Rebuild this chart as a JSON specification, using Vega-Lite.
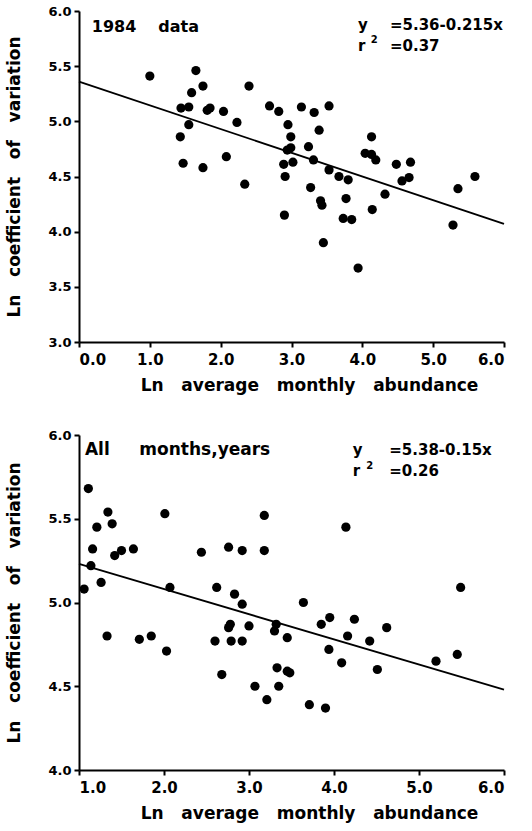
{
  "$schema": "https://vega.github.io/schema/vega-lite/v6.json",
  "background": "white",
  "padding": {"left": 5, "top": 5, "right": 5, "bottom": 5},
  "spacing": 36,
  "config": {
    "view": {"stroke": null},
    "font": "DejaVu Sans",
    "axis": {
      "grid": false,
      "domainColor": "black",
      "domainWidth": 2,
      "tickColor": "black",
      "tickWidth": 2,
      "tickSize": 5,
      "labelFont": "DejaVu Sans",
      "labelFontWeight": "bold",
      "labelColor": "black",
      "titleFont": "DejaVu Sans",
      "titleFontWeight": "bold",
      "titleColor": "black",
      "format": ".1f"
    },
    "axisX": {"labelFontSize": 15, "labelPadding": 5, "titleFontSize": 17, "titlePadding": 10, "titleX": 230},
    "axisY": {"labelFontSize": 13, "labelPadding": 3, "titleFontSize": 17, "titlePadding": 24}
  },
  "datasets": {
    "year1984": [
      {"ln_abundance": 1.00, "ln_cv": 5.41}, {"ln_abundance": 1.65, "ln_cv": 5.46}, {"ln_abundance": 1.75, "ln_cv": 5.32},
      {"ln_abundance": 1.59, "ln_cv": 5.26}, {"ln_abundance": 1.44, "ln_cv": 5.12}, {"ln_abundance": 1.55, "ln_cv": 5.13},
      {"ln_abundance": 1.55, "ln_cv": 4.97}, {"ln_abundance": 1.43, "ln_cv": 4.86}, {"ln_abundance": 1.47, "ln_cv": 4.62},
      {"ln_abundance": 1.75, "ln_cv": 4.58}, {"ln_abundance": 1.81, "ln_cv": 5.10}, {"ln_abundance": 1.85, "ln_cv": 5.12},
      {"ln_abundance": 2.04, "ln_cv": 5.09}, {"ln_abundance": 2.23, "ln_cv": 4.99}, {"ln_abundance": 2.08, "ln_cv": 4.68},
      {"ln_abundance": 2.40, "ln_cv": 5.32}, {"ln_abundance": 2.34, "ln_cv": 4.43}, {"ln_abundance": 2.69, "ln_cv": 5.14},
      {"ln_abundance": 2.82, "ln_cv": 5.09}, {"ln_abundance": 2.95, "ln_cv": 4.97}, {"ln_abundance": 2.99, "ln_cv": 4.86},
      {"ln_abundance": 2.99, "ln_cv": 4.76}, {"ln_abundance": 2.94, "ln_cv": 4.74}, {"ln_abundance": 2.89, "ln_cv": 4.61},
      {"ln_abundance": 3.02, "ln_cv": 4.63}, {"ln_abundance": 2.91, "ln_cv": 4.50}, {"ln_abundance": 3.14, "ln_cv": 5.13},
      {"ln_abundance": 3.32, "ln_cv": 5.08}, {"ln_abundance": 3.39, "ln_cv": 4.92}, {"ln_abundance": 3.24, "ln_cv": 4.77},
      {"ln_abundance": 3.31, "ln_cv": 4.65}, {"ln_abundance": 3.53, "ln_cv": 5.14}, {"ln_abundance": 3.53, "ln_cv": 4.56},
      {"ln_abundance": 3.27, "ln_cv": 4.40}, {"ln_abundance": 3.67, "ln_cv": 4.50}, {"ln_abundance": 3.80, "ln_cv": 4.47},
      {"ln_abundance": 3.77, "ln_cv": 4.30}, {"ln_abundance": 3.41, "ln_cv": 4.28}, {"ln_abundance": 3.43, "ln_cv": 4.24},
      {"ln_abundance": 4.13, "ln_cv": 4.86}, {"ln_abundance": 4.04, "ln_cv": 4.71}, {"ln_abundance": 4.13, "ln_cv": 4.70},
      {"ln_abundance": 4.19, "ln_cv": 4.65}, {"ln_abundance": 4.48, "ln_cv": 4.61}, {"ln_abundance": 4.68, "ln_cv": 4.63},
      {"ln_abundance": 4.56, "ln_cv": 4.46}, {"ln_abundance": 4.66, "ln_cv": 4.49}, {"ln_abundance": 4.32, "ln_cv": 4.34},
      {"ln_abundance": 5.35, "ln_cv": 4.39}, {"ln_abundance": 5.59, "ln_cv": 4.50}, {"ln_abundance": 2.90, "ln_cv": 4.15},
      {"ln_abundance": 3.45, "ln_cv": 3.90}, {"ln_abundance": 3.73, "ln_cv": 4.12}, {"ln_abundance": 3.85, "ln_cv": 4.11},
      {"ln_abundance": 3.94, "ln_cv": 3.67}, {"ln_abundance": 4.14, "ln_cv": 4.20}, {"ln_abundance": 5.28, "ln_cv": 4.06}
    ],
    "fit1984": [
      {"ln_abundance": 0, "ln_cv": 5.36},
      {"ln_abundance": 6, "ln_cv": 4.07}
    ],
    "allYears": [
      {"ln_abundance": 1.06, "ln_cv": 5.08}, {"ln_abundance": 1.11, "ln_cv": 5.68}, {"ln_abundance": 1.14, "ln_cv": 5.22},
      {"ln_abundance": 1.16, "ln_cv": 5.32}, {"ln_abundance": 1.21, "ln_cv": 5.45}, {"ln_abundance": 1.26, "ln_cv": 5.12},
      {"ln_abundance": 1.34, "ln_cv": 5.54}, {"ln_abundance": 1.39, "ln_cv": 5.47}, {"ln_abundance": 1.42, "ln_cv": 5.28},
      {"ln_abundance": 1.50, "ln_cv": 5.31}, {"ln_abundance": 1.64, "ln_cv": 5.32}, {"ln_abundance": 2.01, "ln_cv": 5.53},
      {"ln_abundance": 2.07, "ln_cv": 5.09}, {"ln_abundance": 2.44, "ln_cv": 5.30}, {"ln_abundance": 2.62, "ln_cv": 5.09},
      {"ln_abundance": 2.76, "ln_cv": 5.33}, {"ln_abundance": 2.92, "ln_cv": 5.31}, {"ln_abundance": 2.83, "ln_cv": 5.05},
      {"ln_abundance": 2.92, "ln_cv": 4.99}, {"ln_abundance": 3.18, "ln_cv": 5.52}, {"ln_abundance": 3.18, "ln_cv": 5.31},
      {"ln_abundance": 3.64, "ln_cv": 5.00}, {"ln_abundance": 4.14, "ln_cv": 5.45}, {"ln_abundance": 5.49, "ln_cv": 5.09},
      {"ln_abundance": 3.85, "ln_cv": 4.87}, {"ln_abundance": 3.95, "ln_cv": 4.91}, {"ln_abundance": 4.24, "ln_cv": 4.90},
      {"ln_abundance": 4.62, "ln_cv": 4.85}, {"ln_abundance": 1.33, "ln_cv": 4.80}, {"ln_abundance": 1.71, "ln_cv": 4.78},
      {"ln_abundance": 1.85, "ln_cv": 4.80}, {"ln_abundance": 2.03, "ln_cv": 4.71}, {"ln_abundance": 2.60, "ln_cv": 4.77},
      {"ln_abundance": 2.68, "ln_cv": 4.57}, {"ln_abundance": 2.76, "ln_cv": 4.85}, {"ln_abundance": 2.78, "ln_cv": 4.87},
      {"ln_abundance": 2.79, "ln_cv": 4.77}, {"ln_abundance": 2.92, "ln_cv": 4.77}, {"ln_abundance": 3.00, "ln_cv": 4.86},
      {"ln_abundance": 3.07, "ln_cv": 4.50}, {"ln_abundance": 3.21, "ln_cv": 4.42}, {"ln_abundance": 3.30, "ln_cv": 4.83},
      {"ln_abundance": 3.32, "ln_cv": 4.87}, {"ln_abundance": 3.45, "ln_cv": 4.79}, {"ln_abundance": 3.33, "ln_cv": 4.61},
      {"ln_abundance": 3.45, "ln_cv": 4.59}, {"ln_abundance": 3.48, "ln_cv": 4.58}, {"ln_abundance": 3.35, "ln_cv": 4.50},
      {"ln_abundance": 3.71, "ln_cv": 4.39}, {"ln_abundance": 3.90, "ln_cv": 4.37}, {"ln_abundance": 3.94, "ln_cv": 4.72},
      {"ln_abundance": 4.09, "ln_cv": 4.64}, {"ln_abundance": 4.16, "ln_cv": 4.80}, {"ln_abundance": 4.42, "ln_cv": 4.77},
      {"ln_abundance": 4.51, "ln_cv": 4.60}, {"ln_abundance": 5.20, "ln_cv": 4.65}, {"ln_abundance": 5.45, "ln_cv": 4.69}
    ],
    "fitAll": [
      {"ln_abundance": 1, "ln_cv": 5.23},
      {"ln_abundance": 6, "ln_cv": 4.48}
    ]
  },
  "vconcat": [
    {
      "width": 425,
      "height": 331,
      "layer": [
        {
          "data": {"name": "year1984"},
          "mark": {"type": "circle", "size": 85, "color": "black", "opacity": 1},
          "encoding": {
            "x": {
              "field": "ln_abundance", "type": "quantitative",
              "scale": {"domain": [0, 6], "nice": false, "zero": false},
              "axis": {"values": [0, 1, 2, 3, 4, 5, 6], "title": "Ln\u00a0\u00a0\u00a0average\u00a0\u00a0\u00a0monthly\u00a0\u00a0\u00a0abundance"}
            },
            "y": {
              "field": "ln_cv", "type": "quantitative",
              "scale": {"domain": [3, 6], "nice": false, "zero": false},
              "axis": {"values": [3, 3.5, 4, 4.5, 5, 5.5, 6], "title": "Ln\u00a0\u00a0\u00a0coefficient\u00a0\u00a0\u00a0of\u00a0\u00a0\u00a0variation"}
            }
          }
        },
        {
          "data": {"name": "fit1984"},
          "mark": {"type": "line", "color": "black", "strokeWidth": 1.8},
          "encoding": {
            "x": {"field": "ln_abundance", "type": "quantitative"},
            "y": {"field": "ln_cv", "type": "quantitative"}
          }
        },
        {
          "data": {"values": [{"label": "1984"}]},
          "mark": {"type": "text", "font": "DejaVu Sans", "fontWeight": "bold", "fontSize": 16, "color": "black", "align": "left", "baseline": "alphabetic"},
          "encoding": {"x": {"datum": 0.18, "type": "quantitative"}, "y": {"datum": 5.81, "type": "quantitative"}, "text": {"field": "label"}}
        },
        {
          "data": {"values": [{"label": "data"}]},
          "mark": {"type": "text", "font": "DejaVu Sans", "fontWeight": "bold", "fontSize": 16, "color": "black", "align": "left", "baseline": "alphabetic"},
          "encoding": {"x": {"datum": 1.12, "type": "quantitative"}, "y": {"datum": 5.81, "type": "quantitative"}, "text": {"field": "label"}}
        },
        {
          "data": {"values": [{"label": "y"}]},
          "mark": {"type": "text", "font": "DejaVu Sans", "fontWeight": "bold", "fontSize": 15, "color": "black", "align": "left", "baseline": "alphabetic"},
          "encoding": {"x": {"datum": 3.94, "type": "quantitative"}, "y": {"datum": 5.83, "type": "quantitative"}, "text": {"field": "label"}}
        },
        {
          "data": {"values": [{"label": "=5.36-0.215x"}]},
          "mark": {"type": "text", "font": "DejaVu Sans", "fontWeight": "bold", "fontSize": 15, "color": "black", "align": "left", "baseline": "alphabetic"},
          "encoding": {"x": {"datum": 4.39, "type": "quantitative"}, "y": {"datum": 5.83, "type": "quantitative"}, "text": {"field": "label"}}
        },
        {
          "data": {"values": [{"label": "r"}]},
          "mark": {"type": "text", "font": "DejaVu Sans", "fontWeight": "bold", "fontSize": 15, "color": "black", "align": "left", "baseline": "alphabetic"},
          "encoding": {"x": {"datum": 3.94, "type": "quantitative"}, "y": {"datum": 5.64, "type": "quantitative"}, "text": {"field": "label"}}
        },
        {
          "data": {"values": [{"label": "2"}]},
          "mark": {"type": "text", "font": "DejaVu Sans", "fontWeight": "bold", "fontSize": 10, "color": "black", "align": "left", "baseline": "alphabetic"},
          "encoding": {"x": {"datum": 4.12, "type": "quantitative"}, "y": {"datum": 5.71, "type": "quantitative"}, "text": {"field": "label"}}
        },
        {
          "data": {"values": [{"label": "=0.37"}]},
          "mark": {"type": "text", "font": "DejaVu Sans", "fontWeight": "bold", "fontSize": 15, "color": "black", "align": "left", "baseline": "alphabetic"},
          "encoding": {"x": {"datum": 4.39, "type": "quantitative"}, "y": {"datum": 5.64, "type": "quantitative"}, "text": {"field": "label"}}
        }
      ]
    },
    {
      "width": 425,
      "height": 335,
      "layer": [
        {
          "data": {"name": "allYears"},
          "mark": {"type": "circle", "size": 85, "color": "black", "opacity": 1},
          "encoding": {
            "x": {
              "field": "ln_abundance", "type": "quantitative",
              "scale": {"domain": [1, 6], "nice": false, "zero": false},
              "axis": {"values": [1, 2, 3, 4, 5, 6], "title": "Ln\u00a0\u00a0\u00a0average\u00a0\u00a0\u00a0monthly\u00a0\u00a0\u00a0abundance"}
            },
            "y": {
              "field": "ln_cv", "type": "quantitative",
              "scale": {"domain": [4, 6], "nice": false, "zero": false},
              "axis": {"values": [4, 4.5, 5, 5.5, 6], "title": "Ln\u00a0\u00a0\u00a0coefficient\u00a0\u00a0\u00a0of\u00a0\u00a0\u00a0variation"}
            }
          }
        },
        {
          "data": {"name": "fitAll"},
          "mark": {"type": "line", "color": "black", "strokeWidth": 1.8},
          "encoding": {
            "x": {"field": "ln_abundance", "type": "quantitative"},
            "y": {"field": "ln_cv", "type": "quantitative"}
          }
        },
        {
          "data": {"values": [{"label": "All"}]},
          "mark": {"type": "text", "font": "DejaVu Sans", "fontWeight": "bold", "fontSize": 17, "color": "black", "align": "left", "baseline": "alphabetic"},
          "encoding": {"x": {"datum": 1.07, "type": "quantitative"}, "y": {"datum": 5.88, "type": "quantitative"}, "text": {"field": "label"}}
        },
        {
          "data": {"values": [{"label": "months,years"}]},
          "mark": {"type": "text", "font": "DejaVu Sans", "fontWeight": "bold", "fontSize": 17, "color": "black", "align": "left", "baseline": "alphabetic"},
          "encoding": {"x": {"datum": 1.71, "type": "quantitative"}, "y": {"datum": 5.88, "type": "quantitative"}, "text": {"field": "label"}}
        },
        {
          "data": {"values": [{"label": "y"}]},
          "mark": {"type": "text", "font": "DejaVu Sans", "fontWeight": "bold", "fontSize": 15, "color": "black", "align": "left", "baseline": "alphabetic"},
          "encoding": {"x": {"datum": 4.22, "type": "quantitative"}, "y": {"datum": 5.88, "type": "quantitative"}, "text": {"field": "label"}}
        },
        {
          "data": {"values": [{"label": "=5.38-0.15x"}]},
          "mark": {"type": "text", "font": "DejaVu Sans", "fontWeight": "bold", "fontSize": 15, "color": "black", "align": "left", "baseline": "alphabetic"},
          "encoding": {"x": {"datum": 4.65, "type": "quantitative"}, "y": {"datum": 5.88, "type": "quantitative"}, "text": {"field": "label"}}
        },
        {
          "data": {"values": [{"label": "r"}]},
          "mark": {"type": "text", "font": "DejaVu Sans", "fontWeight": "bold", "fontSize": 15, "color": "black", "align": "left", "baseline": "alphabetic"},
          "encoding": {"x": {"datum": 4.22, "type": "quantitative"}, "y": {"datum": 5.755, "type": "quantitative"}, "text": {"field": "label"}}
        },
        {
          "data": {"values": [{"label": "2"}]},
          "mark": {"type": "text", "font": "DejaVu Sans", "fontWeight": "bold", "fontSize": 10, "color": "black", "align": "left", "baseline": "alphabetic"},
          "encoding": {"x": {"datum": 4.38, "type": "quantitative"}, "y": {"datum": 5.80, "type": "quantitative"}, "text": {"field": "label"}}
        },
        {
          "data": {"values": [{"label": "=0.26"}]},
          "mark": {"type": "text", "font": "DejaVu Sans", "fontWeight": "bold", "fontSize": 15, "color": "black", "align": "left", "baseline": "alphabetic"},
          "encoding": {"x": {"datum": 4.65, "type": "quantitative"}, "y": {"datum": 5.755, "type": "quantitative"}, "text": {"field": "label"}}
        }
      ]
    }
  ]
}
